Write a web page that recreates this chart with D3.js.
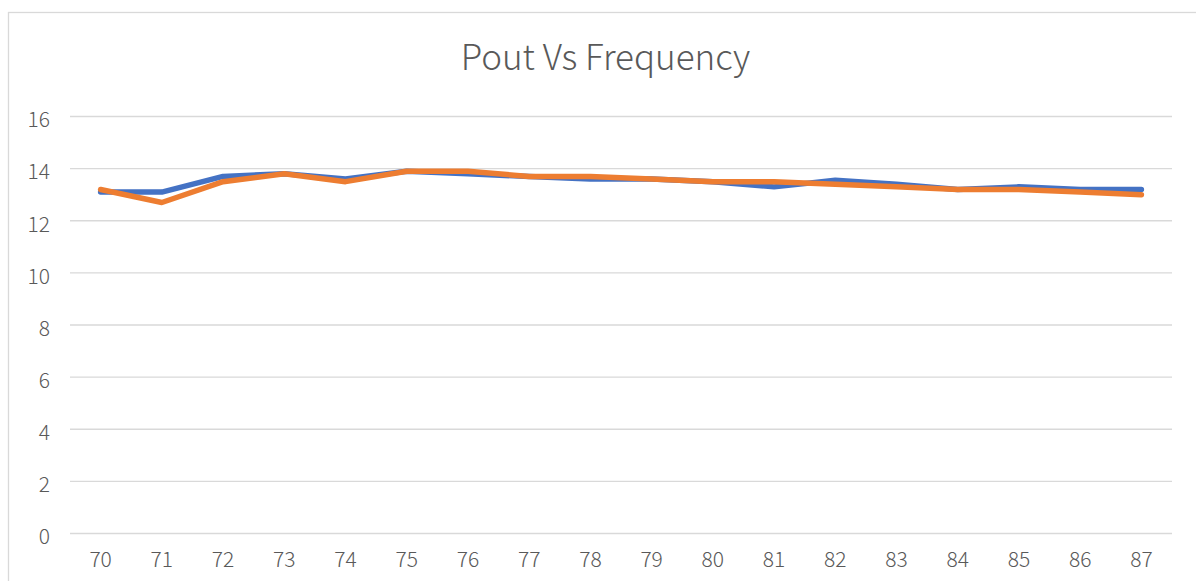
<!DOCTYPE html>
<html><head><meta charset="utf-8">
<script src="https://cdn.jsdelivr.net/npm/d3@7"></script>
<style>
html,body{margin:0;padding:0;background:#fff;}
svg text{font-family:"Noto Sans CJK SC","Noto Sans",sans-serif;fill:#595959;}
</style></head>
<body>
<svg id="chart" width="1196" height="581"></svg>
<script>
const categories = ["70","71","72","73","74","75","76","77","78","79","80","81","82","83","84","85","86","87"];
const series1 = [13.1,13.1,13.7,13.8,13.6,13.9,13.8,13.7,13.6,13.6,13.5,13.3,13.55,13.4,13.2,13.3,13.2,13.2];
const series2 = [13.2,12.7,13.5,13.8,13.5,13.9,13.9,13.7,13.7,13.6,13.5,13.5,13.4,13.3,13.2,13.2,13.1,13.0];
const yTicks = [0,2,4,6,8,10,12,14,16];
const title = "Pout Vs Frequency";

const svg = d3.select("#chart");
const W = 1196, H = 581;
const m = {left:70, right:1172, top:116.5, bottom:533.5};
const FONT = '"Noto Sans CJK SC","Noto Sans",sans-serif';

svg.append("rect").attr("x",8.5).attr("y",12.5).attr("width",W).attr("height",H)
  .attr("fill","none").attr("stroke","#d9d9d9").attr("stroke-width",1.3);

const x = d3.scaleBand().domain(categories).range([m.left,m.right]);
const y = d3.scaleLinear().domain([0,16]).range([m.bottom,m.top]);

const grid = svg.append("g");
grid.selectAll("line").data(yTicks).join("line")
  .attr("x1",m.left).attr("x2",m.right)
  .attr("y1",d=>y(d)).attr("y2",d=>y(d))
  .attr("stroke","#d9d9d9").attr("stroke-width",1.3);

const yAxis = d3.axisLeft(y).tickValues(yTicks).tickSize(0).tickPadding(0);
const gy = svg.append("g").attr("transform","translate(50,3)").call(yAxis);
gy.select(".domain").remove();
gy.selectAll("text").attr("font-size",21).attr("dy","0.35em").attr("text-anchor","end")
  .style("font-family",FONT).style("fill","#595959").style("font-weight",300);

const xAxis = d3.axisBottom(x).tickSize(0).tickPadding(0);
const gx = svg.append("g").attr("transform",`translate(0,560)`).call(xAxis);
gx.select(".domain").remove();
gx.selectAll("text").attr("font-size",21).attr("dy","0.35em")
  .style("font-family",FONT).style("fill","#595959").style("font-weight",300);

const cx = d => x(d) + x.bandwidth()/2;
const line = d3.line().x((d,i)=>cx(categories[i])).y(d=>y(d));

svg.append("path").datum(series1).attr("d",line)
  .attr("fill","none").attr("stroke","#4472c4").attr("stroke-width",5.5)
  .attr("stroke-linejoin","round").attr("stroke-linecap","round");
svg.append("path").datum(series2).attr("d",line)
  .attr("fill","none").attr("stroke","#ed7d31").attr("stroke-width",5.5)
  .attr("stroke-linejoin","round").attr("stroke-linecap","round");

svg.append("text").attr("x",605.5).attr("y",70).attr("text-anchor","middle")
  .attr("font-size",35).attr("font-weight",300).text(title);
</script>
</body></html>
